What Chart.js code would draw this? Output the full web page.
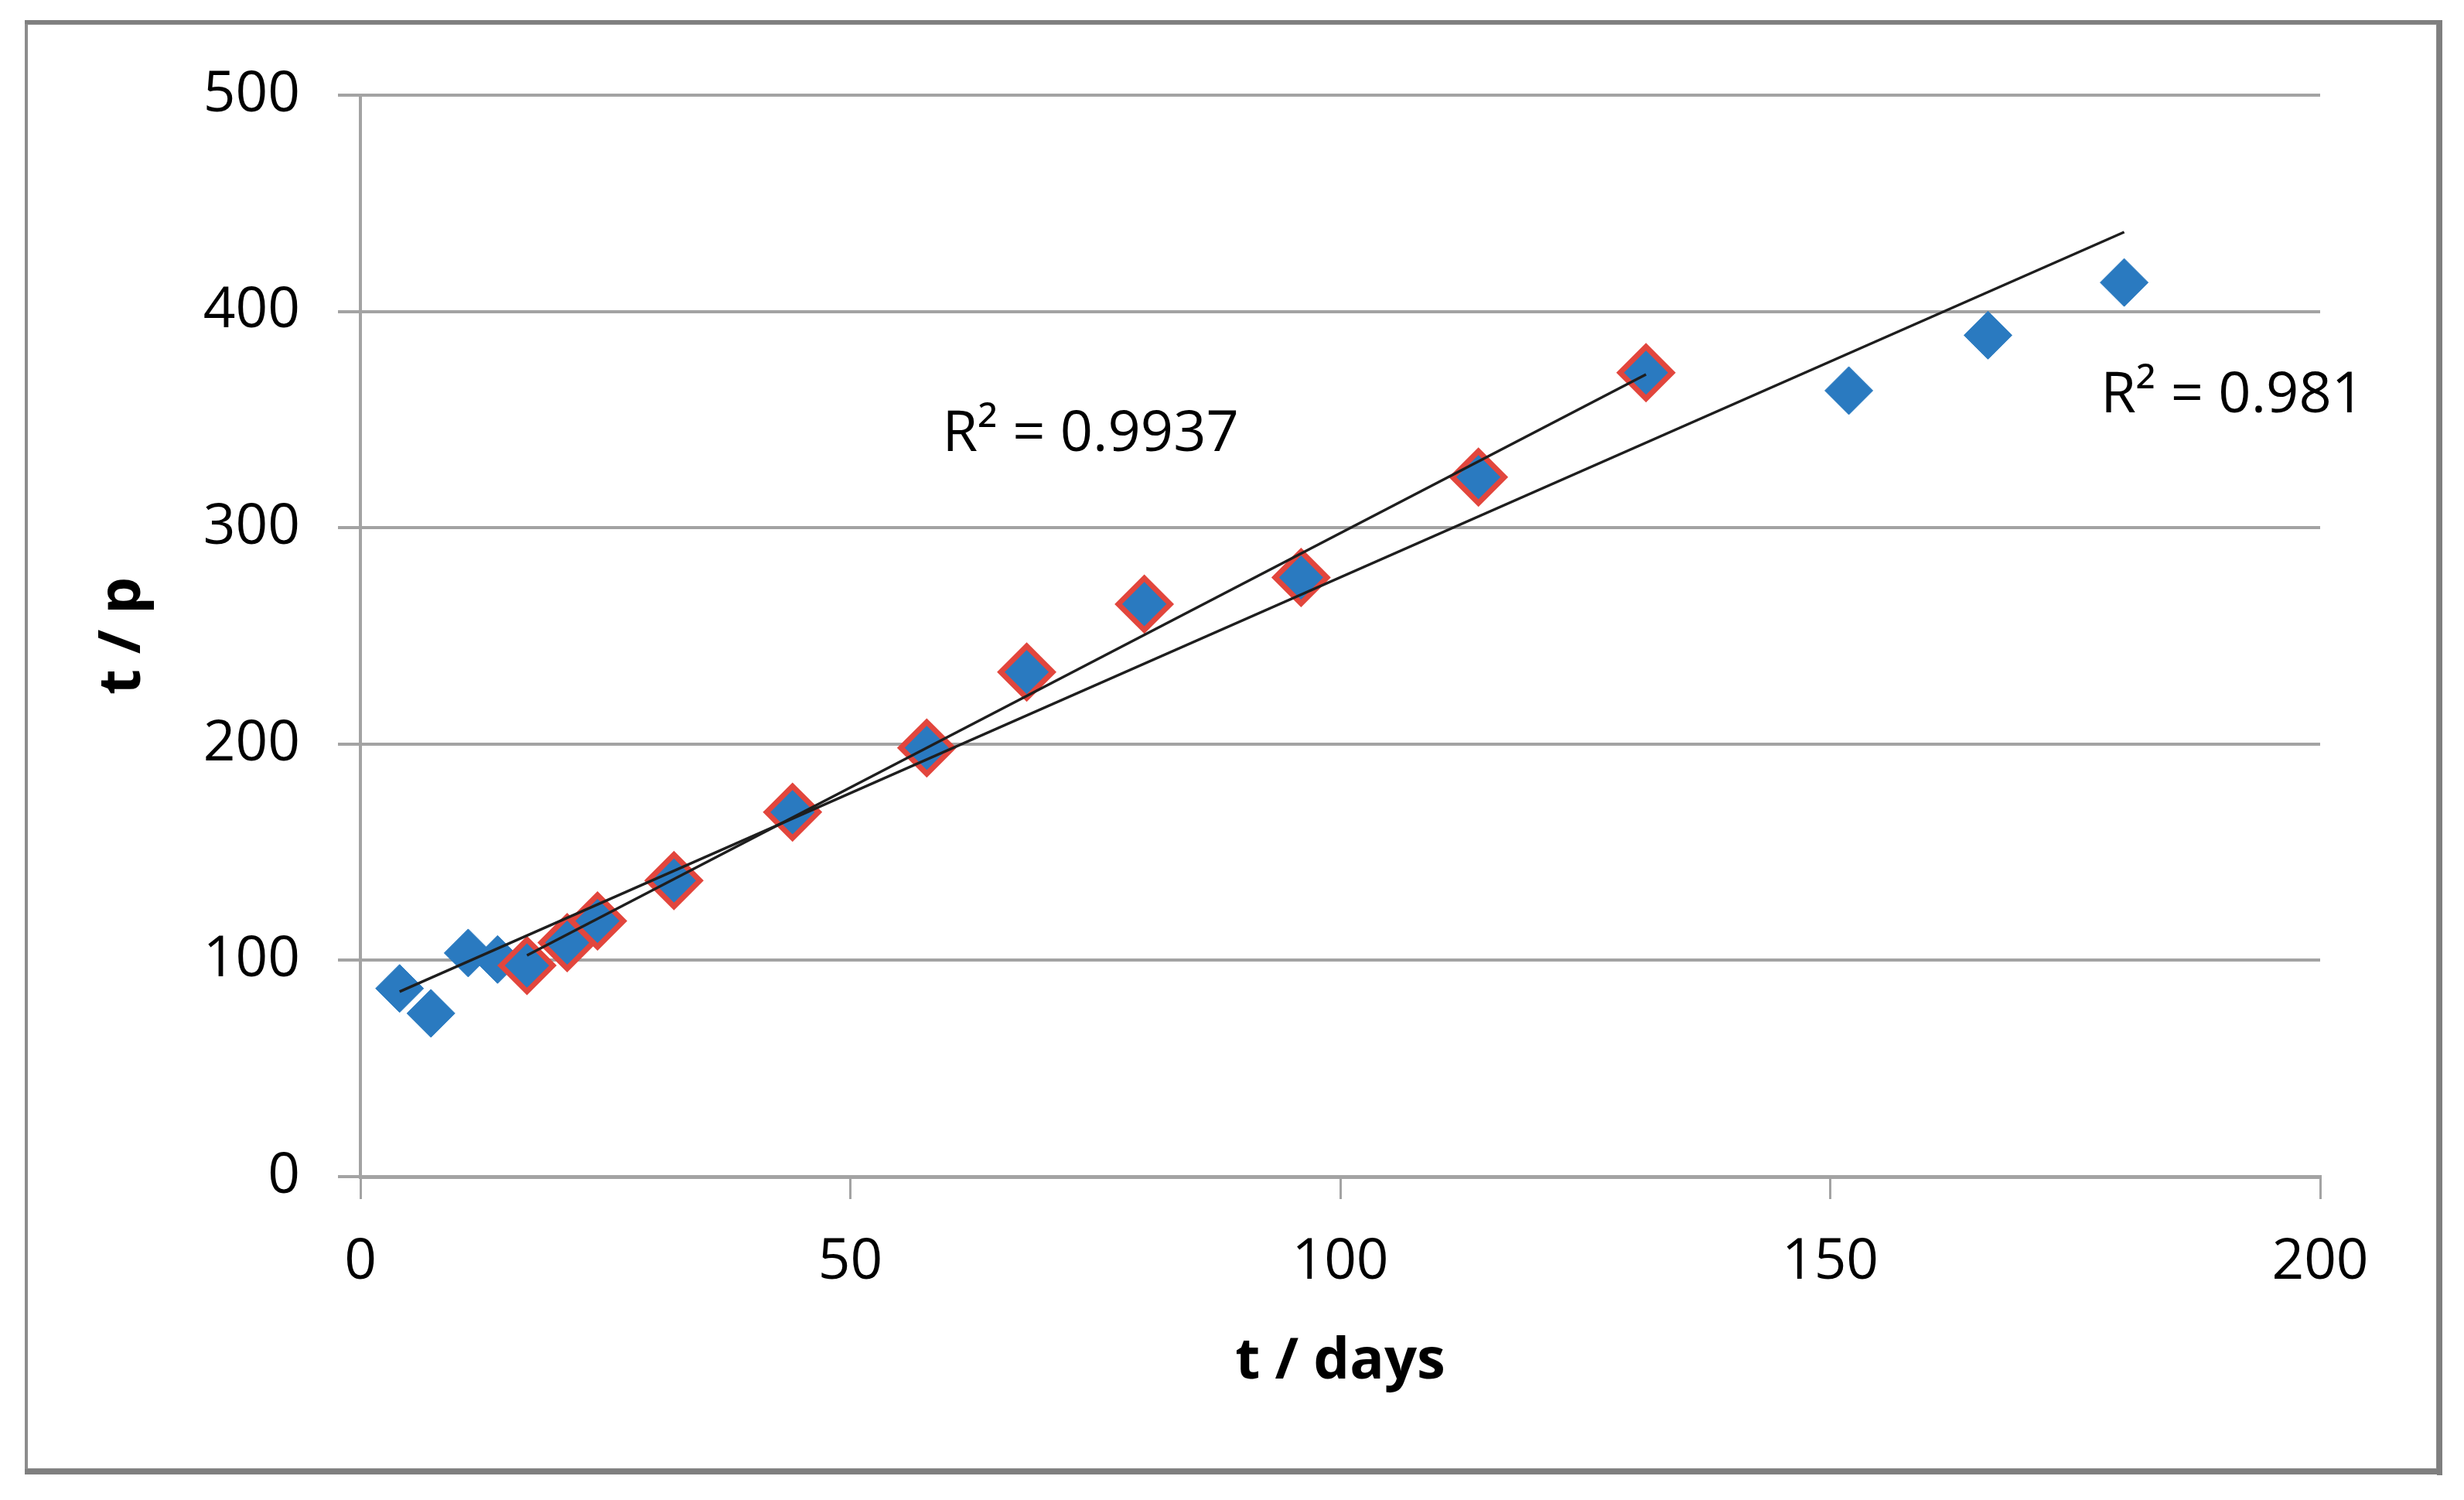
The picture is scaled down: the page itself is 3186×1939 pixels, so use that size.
<!DOCTYPE html>
<html>
<head>
<meta charset="utf-8">
<script src="https://cdn.jsdelivr.net/npm/chart.js@4.4.0/dist/chart.umd.min.js"></script>
<style>
  html, body { margin: 0; padding: 0; background: #ffffff; }
  canvas { display: block; }
</style>
</head>
<body>
<canvas id="c" width="3186" height="1939"></canvas>
<script>
// ---- data ----
const days   = [4, 7.2, 11, 14, 17, 21.1, 24.2, 32, 44.1, 57.8, 68, 80, 96, 114.1, 131.2, 151.9, 166.1, 180];
const tOverP = [87, 75.5, 103.4, 100.4, 97.6, 108.2, 118.2, 136.9, 168.5, 198.2, 233.3, 264.7, 277, 323.4, 371.7, 363.4, 389, 413.4];
// points of the highlighted (red-outlined) subset
const subDays = [17, 21.1, 24.2, 32, 44.1, 57.8, 68, 80, 96, 114.1, 131.2];
const subTp   = [97.6, 108.2, 118.2, 136.9, 168.5, 198.2, 233.3, 264.7, 277, 323.4, 371.7];
const xTicks = [0, 50, 100, 150, 200];
const yTicks = [0, 100, 200, 300, 400, 500];
const xTitle = 't / days';
const yTitle = 't / p';
const r2Text = ['R\u00B2 = 0.9937', 'R\u00B2 = 0.981'];
const r2AtX  = [59.4, 177.6];
const r2AtY  = [335.5, 353.4];

// ---- linear least-squares trendlines (as the spreadsheet's linear trendline) ----
function linFit(xs, ys) {
  const n = xs.length;
  const mx = xs.reduce((a, b) => a + b, 0) / n;
  const my = ys.reduce((a, b) => a + b, 0) / n;
  let sxy = 0, sxx = 0;
  for (let i = 0; i < n; i++) { sxy += (xs[i] - mx) * (ys[i] - my); sxx += (xs[i] - mx) ** 2; }
  const b = sxy / sxx, a = my - b * mx;
  const x0 = Math.min(...xs), x1 = Math.max(...xs);
  return [{ x: x0, y: a + b * x0 }, { x: x1, y: a + b * x1 }];
}
const trendAll = linFit(days, tOverP);
const trendSub = linFit(subDays, subTp);

const FONT = '"Open Sans", "Noto Sans", sans-serif';
const GRID = '#a3a3a3';
const BLUE = '#2a7ac0';
const RED = '#e2463d';

const decor = {
  id: 'decor',
  beforeDraw(chart) {
    const ctx = chart.ctx;
    ctx.save();
    ctx.fillStyle = '#ffffff';
    ctx.fillRect(0, 0, chart.width, chart.height);
    ctx.strokeStyle = '#8c8c8c';
    ctx.lineWidth = 4;
    ctx.strokeRect(34, 30, 3118, 1870);
    ctx.fillStyle = '#7f7f7f';
    ctx.fillRect(3151, 28, 7, 1879);
    ctx.fillRect(32, 1899, 3126, 7);
    ctx.fillRect(32, 26, 3126, 5);
    ctx.restore();
  },
  afterDraw(chart) {
    const { ctx, scales: { x, y } } = chart;
    ctx.save();
    ctx.font = '74px ' + FONT;
    ctx.fillStyle = '#000000';
    ctx.textAlign = 'left';
    ctx.textBaseline = 'alphabetic';
    r2Text.forEach((t, i) => ctx.fillText(t, x.getPixelForValue(r2AtX[i]), y.getPixelForValue(r2AtY[i])));
    ctx.restore();
  }
};

new Chart(document.getElementById('c'), {
  type: 'scatter',
  data: {
    datasets: [
      { label: 'trend all', data: trendAll, showLine: true, borderColor: '#1e1e1e', borderWidth: 3.5,
        pointRadius: 0, pointHoverRadius: 0, fill: false, order: 0 },
      { label: 'trend subset', data: trendSub, showLine: true, borderColor: '#1e1e1e', borderWidth: 3.5,
        pointRadius: 0, pointHoverRadius: 0, fill: false, order: 1 },
      { label: 'subset', data: subDays.map((d, i) => ({ x: d, y: subTp[i] })),
        pointStyle: 'rectRot', pointRadius: 33.5, backgroundColor: BLUE, borderColor: RED, borderWidth: 7, order: 2 },
      { label: 'all', data: days.map((d, i) => ({ x: d, y: tOverP[i] })),
        pointStyle: 'rectRot', pointRadius: 31, backgroundColor: BLUE, borderColor: BLUE, borderWidth: 1, order: 3 }
    ]
  },
  options: {
    responsive: false,
    animation: false,
    devicePixelRatio: 1,
    layout: { padding: { left: 0, right: 186, top: 123, bottom: 0 } },
    plugins: { legend: { display: false }, tooltip: { enabled: false } },
    scales: {
      x: {
        type: 'linear', min: 0, max: 200,
        afterBuildTicks: s => { s.ticks = xTicks.map(v => ({ value: v })); },
        afterFit: s => { s.height = 418; },
        ticks: { font: { family: FONT, size: 73 }, color: '#000000', padding: 38 },
        grid: { drawOnChartArea: false, drawTicks: true, tickLength: 29, color: GRID, lineWidth: 3 },
        border: { display: true, color: GRID, width: 5 },
        title: { display: true, text: xTitle, color: '#000000',
                 font: { family: FONT, size: 74, weight: 'bold' }, padding: { top: 0, bottom: 134 } }
      },
      y: {
        type: 'linear', min: 0, max: 500,
        afterBuildTicks: s => { s.ticks = yTicks.map(v => ({ value: v })); },
        afterFit: s => { s.width = 466; },
        ticks: { font: { family: FONT, size: 73 }, color: '#000000', padding: 49 },
        grid: { drawTicks: true, tickLength: 29, color: GRID, lineWidth: 4 },
        border: { display: true, color: GRID, width: 4 },
        title: { display: true, text: yTitle, color: '#000000',
                 font: { family: FONT, size: 76, weight: 'bold' }, padding: { top: 114, bottom: 0 } }
      }
    }
  },
  plugins: [decor]
});
</script>
</body>
</html>
